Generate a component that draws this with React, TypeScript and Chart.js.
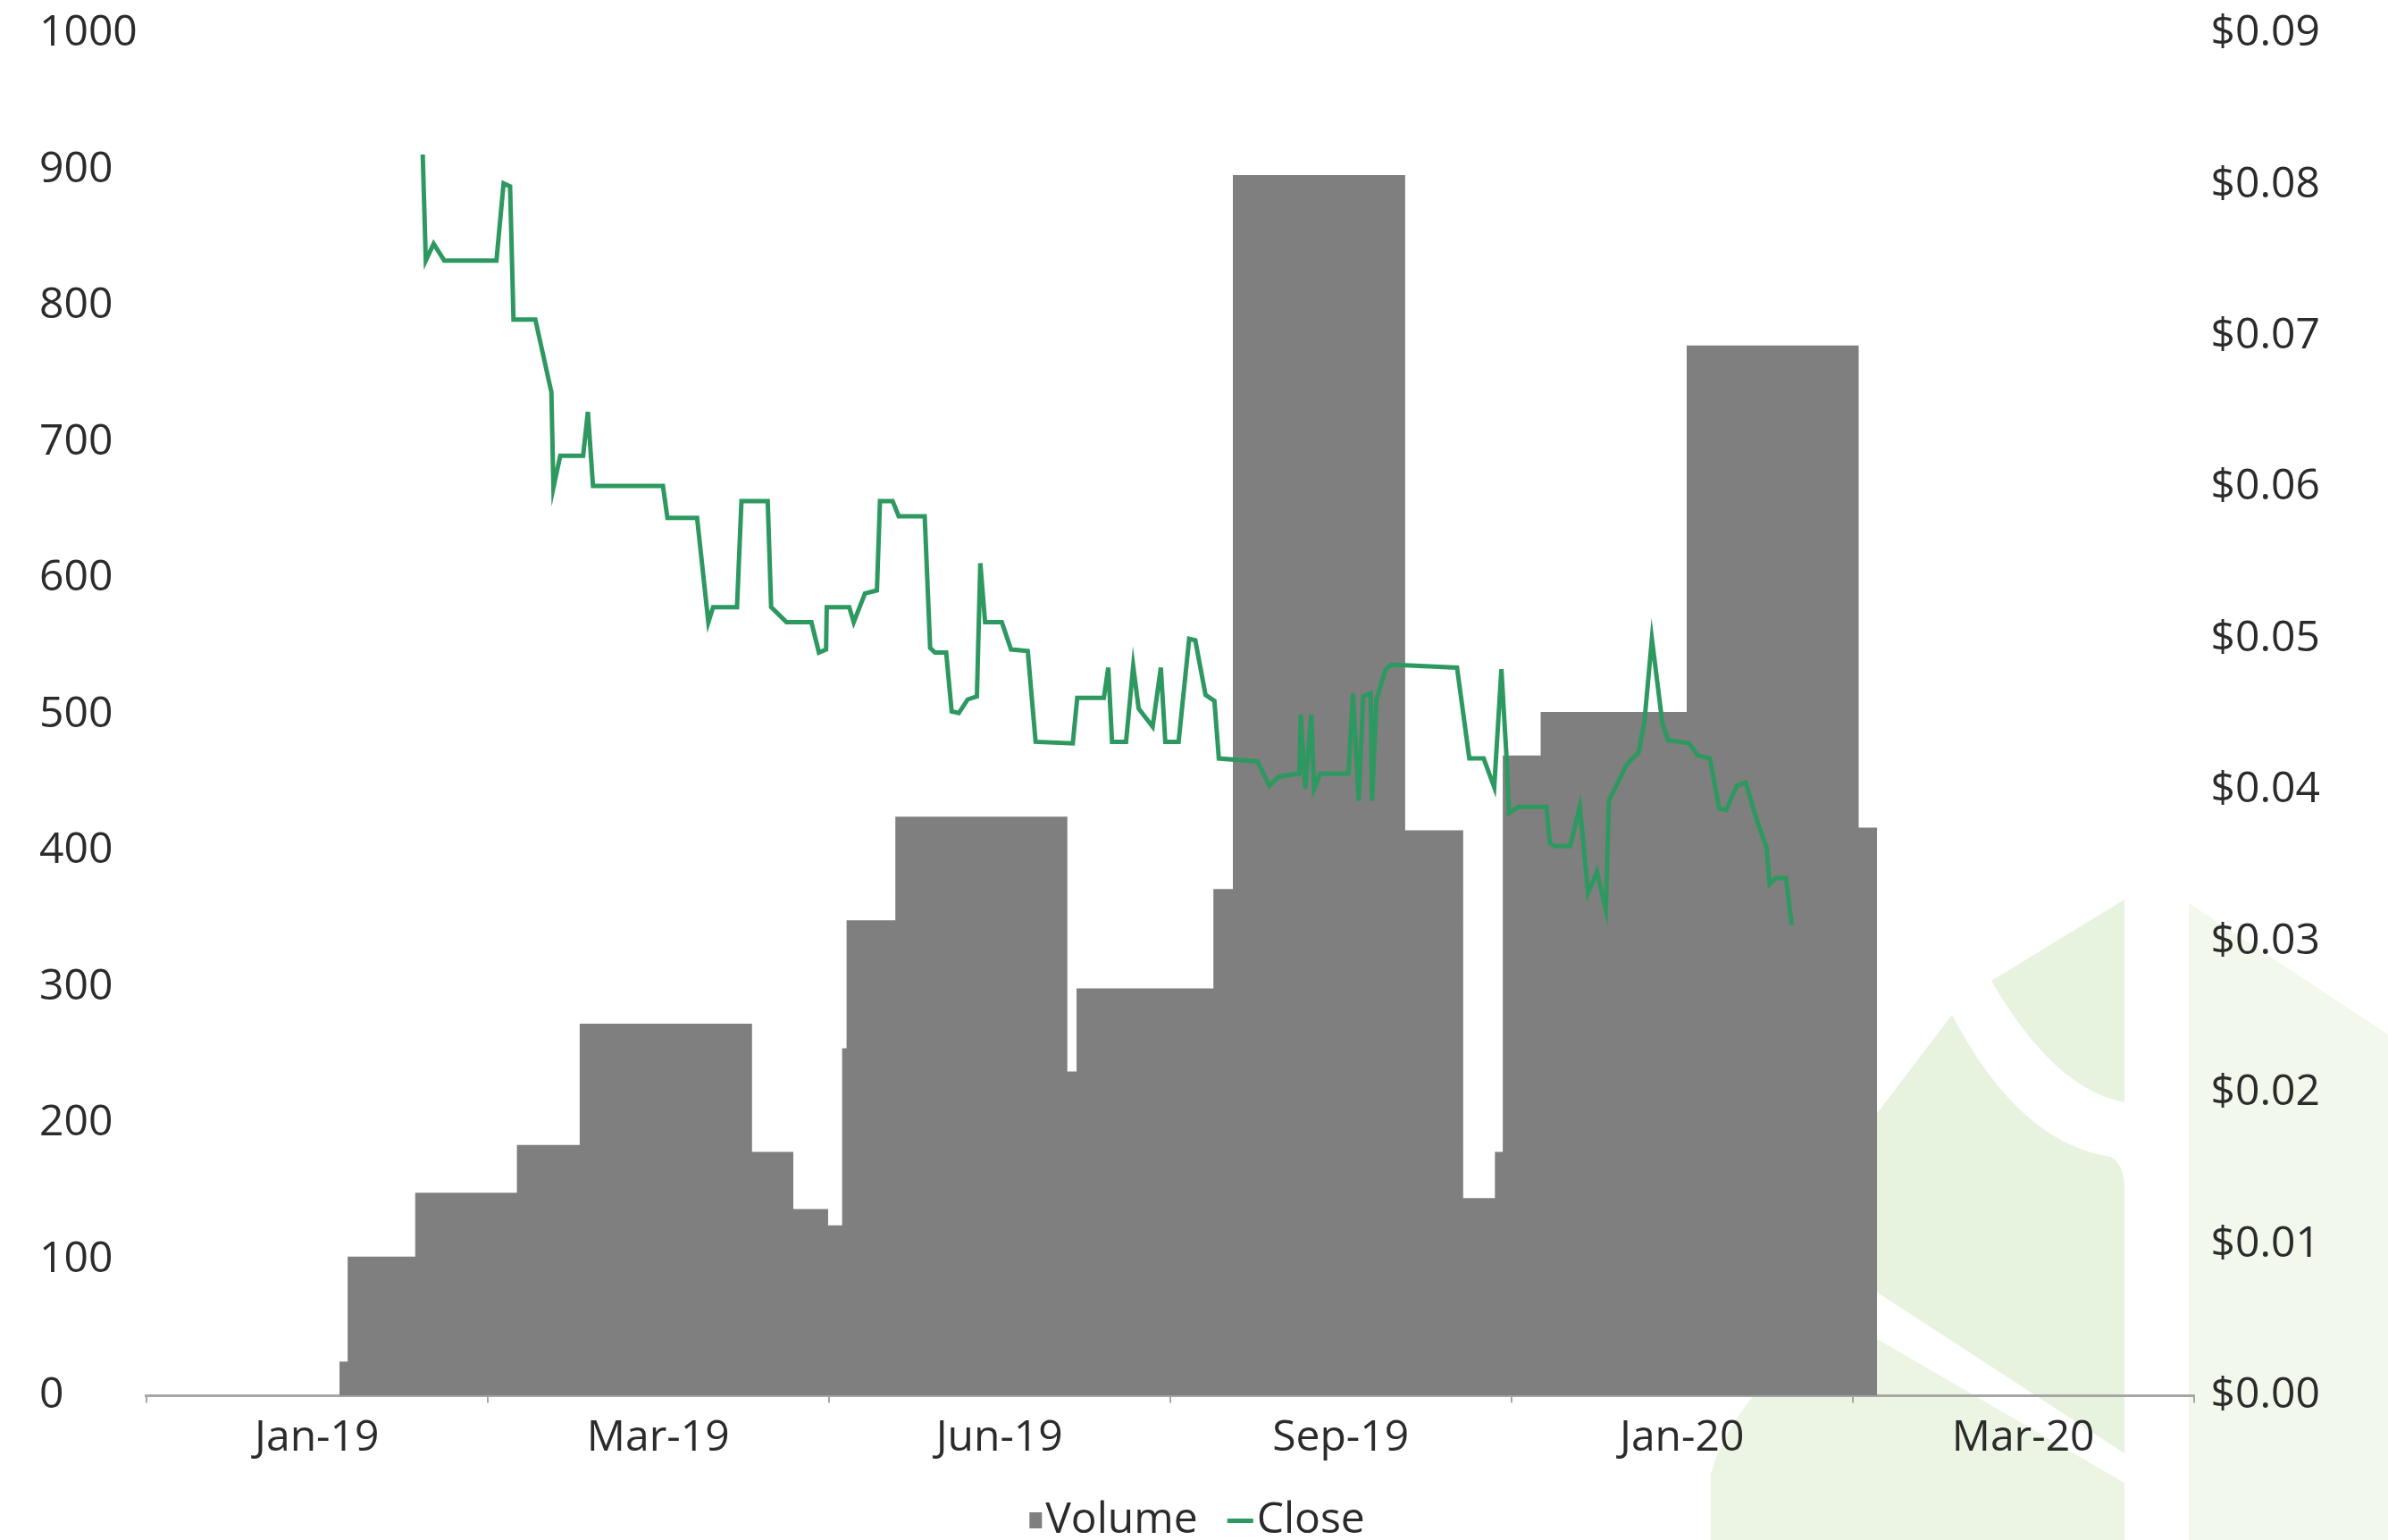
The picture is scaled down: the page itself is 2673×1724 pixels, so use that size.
import React, { useEffect, useRef } from 'react';
import { Chart, registerables } from 'chart.js';

Chart.register(...registerables);

// ---- data ----
const xLabels = ['Jan-19', 'Mar-19', 'Jun-19', 'Sep-19', 'Jan-20', 'Mar-20'];

// Volume steps: start position on the time axis (in label slots), value held until the next start
const volumeStart = [0.566, 0.590, 0.788, 1.086, 1.270, 1.775, 1.896, 1.998, 2.039, 2.052, 2.195, 2.699, 2.726, 3.127, 3.184, 3.689, 3.859, 3.952, 3.975, 4.086, 4.514, 5.018];
const volumeEnd = 5.072;
const volumeValues = [25, 102, 149, 184, 273, 179, 137, 125, 255, 349, 425, 238, 299, 372, 896, 415, 145, 179, 470, 502, 771, 417];

// Close price
const closeX = [0.810, 0.819, 0.842, 0.873, 1.026, 1.047, 1.066, 1.076, 1.140, 1.187,
  1.193, 1.213, 1.280, 1.294, 1.309, 1.514, 1.527, 1.614, 1.647, 1.661,
  1.731, 1.744, 1.821, 1.831, 1.876, 1.949, 1.971, 1.992, 1.994, 2.060,
  2.073, 2.106, 2.141, 2.150, 2.187, 2.205, 2.281, 2.297, 2.311, 2.344,
  2.360, 2.381, 2.407, 2.434, 2.444, 2.458, 2.507, 2.534, 2.583, 2.606,
  2.715, 2.728, 2.806, 2.819, 2.830, 2.871, 2.892, 2.908, 2.949, 2.973,
  2.986, 3.025, 3.056, 3.074, 3.104, 3.130, 3.143, 3.256, 3.291, 3.318,
  3.379, 3.383, 3.396, 3.414, 3.422, 3.440, 3.523, 3.536, 3.553, 3.566,
  3.588, 3.592, 3.605, 3.632, 3.649, 3.841, 3.877, 3.919, 3.950, 3.971,
  3.987, 3.993, 4.022, 4.103, 4.113, 4.129, 4.172, 4.201, 4.225, 4.251,
  4.277, 4.286, 4.338, 4.373, 4.390, 4.412, 4.443, 4.460, 4.521, 4.547,
  4.582, 4.609, 4.630, 4.661, 4.687, 4.717, 4.748, 4.757, 4.774, 4.805,
  4.813, 4.822];
const closeY = [0.0820, 0.0750, 0.0761, 0.0750, 0.0750, 0.0801, 0.0799, 0.0711, 0.0711, 0.0663,
  0.0600, 0.0621, 0.0621, 0.0650, 0.0601, 0.0601, 0.0580, 0.0580, 0.0511, 0.0521,
  0.0521, 0.0591, 0.0591, 0.0521, 0.0511, 0.0511, 0.0491, 0.0493, 0.0521, 0.0521,
  0.0511, 0.0530, 0.0532, 0.0591, 0.0591, 0.0581, 0.0581, 0.0494, 0.0491, 0.0491,
  0.0452, 0.0451, 0.0460, 0.0462, 0.0550, 0.0511, 0.0511, 0.0493, 0.0492, 0.0432,
  0.0431, 0.0461, 0.0461, 0.0481, 0.0432, 0.0432, 0.0482, 0.0454, 0.0442, 0.0481,
  0.0432, 0.0432, 0.0500, 0.0499, 0.0463, 0.0459, 0.0421, 0.0419, 0.0403, 0.0409,
  0.0411, 0.0450, 0.0401, 0.0450, 0.0401, 0.0411, 0.0411, 0.0464, 0.0393, 0.0462,
  0.0464, 0.0393, 0.0460, 0.0480, 0.0483, 0.0481, 0.0421, 0.0421, 0.0402, 0.0480,
  0.0418, 0.0385, 0.0389, 0.0389, 0.0365, 0.0363, 0.0363, 0.0389, 0.0332, 0.0346,
  0.0321, 0.0393, 0.0417, 0.0425, 0.0445, 0.0500, 0.0444, 0.0433, 0.0431, 0.0423,
  0.0421, 0.0388, 0.0387, 0.0403, 0.0405, 0.0382, 0.0362, 0.0338, 0.0342, 0.0342,
  0.0327, 0.0311];

const leftTicksMax = 1000;
const leftStep = 100;
const rightTicksMax = 0.09;
const rightStep = 0.01;

// ---- styles ----
const FONT = '"Open Sans", "Noto Sans", sans-serif';
const TEXT = '#2b2b2b';
const GRAY = '#7f7f7f';
const GREEN = '#2d9960';
const AXIS = '#a6a6a6';

const watermark = {
  id: 'watermark',
  beforeDraw(chart: any) {
    const ctx = chart.ctx as CanvasRenderingContext2D;
    ctx.save();
    ctx.fillStyle = '#f2f8ec';
    ctx.beginPath();
    ctx.moveTo(2450, 1011);
    ctx.lineTo(2673, 1158);
    ctx.lineTo(2673, 1724);
    ctx.lineTo(2450, 1724);
    ctx.closePath();
    ctx.fill();

    ctx.fillStyle = '#e8f3df';
    ctx.beginPath();
    ctx.moveTo(2229, 1098);
    ctx.lineTo(2378, 1007);
    ctx.lineTo(2378, 1234);
    ctx.quadraticCurveTo(2300, 1220, 2229, 1098);
    ctx.closePath();
    ctx.fill();

    ctx.beginPath();
    ctx.moveTo(2185, 1136);
    ctx.quadraticCurveTo(2260, 1280, 2363, 1295);
    ctx.quadraticCurveTo(2378, 1305, 2378, 1330);
    ctx.lineTo(2378, 1627);
    ctx.lineTo(2060, 1420);
    ctx.lineTo(2060, 1300);
    ctx.closePath();
    ctx.fill();

    ctx.fillStyle = '#ecf5e4';
    ctx.beginPath();
    ctx.moveTo(1915, 1724);
    ctx.lineTo(1915, 1650);
    ctx.quadraticCurveTo(1940, 1560, 2060, 1475);
    ctx.lineTo(2378, 1660);
    ctx.lineTo(2378, 1724);
    ctx.closePath();
    ctx.fill();
    ctx.restore();
  },
};

function makeMarker(kind: 'rect' | 'line'): HTMLCanvasElement {
  const c = document.createElement('canvas');
  c.width = 60;
  c.height = 20;
  const g = c.getContext('2d')!;
  if (kind === 'rect') {
    g.fillStyle = GRAY;
    g.fillRect(43, 1, 14, 18);
  } else {
    g.fillStyle = GREEN;
    g.fillRect(28, 8, 29, 5);
  }
  return c;
}

export default function App() {
  const ref = useRef<HTMLCanvasElement>(null);

  useEffect(() => {
    if (!ref.current) return;
    const volumePoints = volumeStart.map((x, i) => ({ x, y: volumeValues[i] }));
    volumePoints.push({ x: volumeEnd, y: volumeValues[volumeValues.length - 1] });
    const closePoints = closeX.map((x, i) => ({ x, y: closeY[i] }));
    const markers = [makeMarker('rect'), makeMarker('line')];

    const chart = new Chart(ref.current, {
      type: 'line',
      data: {
        labels: xLabels,
        datasets: [
          {
            label: 'Volume',
            data: volumePoints,
            xAxisID: 'xv',
            yAxisID: 'y',
            stepped: true,
            fill: 'origin',
            backgroundColor: GRAY,
            borderColor: 'rgba(0,0,0,0)',
            borderWidth: 0,
            pointRadius: 0,
            order: 2,
          },
          {
            label: 'Close',
            data: closePoints,
            xAxisID: 'xv',
            yAxisID: 'y1',
            borderColor: GREEN,
            borderWidth: 5,
            pointRadius: 0,
            tension: 0,
            fill: false,
            order: 1,
          },
        ],
      } as any,
      options: {
        responsive: false,
        devicePixelRatio: 1,
        animation: false,
        layout: { padding: { left: 44, right: 57, top: 4, bottom: -12 } },
        plugins: {
          tooltip: { enabled: false },
          legend: {
            position: 'bottom',
            labels: {
              usePointStyle: true,
              pointStyleWidth: 14,
              padding: 28,
              color: TEXT,
              font: { family: FONT, size: 48 },
              generateLabels: (ch: any) =>
                ch.data.datasets.map((ds: any, i: number) => ({
                  text: ds.label,
                  pointStyle: markers[i],
                  fillStyle: i === 0 ? GRAY : GREEN,
                  strokeStyle: i === 0 ? GRAY : GREEN,
                  lineWidth: 0,
                  fontColor: TEXT,
                  hidden: false,
                  datasetIndex: i,
                })),
            },
          },
        },
        scales: {
          x: {
            type: 'category',
            labels: xLabels,
            position: 'bottom',
            offset: true,
            grid: { offset: true, drawOnChartArea: false, drawTicks: true, tickLength: 8, color: AXIS, lineWidth: 2 },
            border: { display: true, color: AXIS, width: 3 },
            ticks: { color: TEXT, font: { family: FONT, size: 48 }, padding: 11, maxRotation: 0, autoSkip: false },
          },
          xv: { type: 'linear', display: false, min: 0, max: 6 },
          y: {
            position: 'left',
            min: 0,
            max: leftTicksMax,
            grid: { display: false, drawTicks: false },
            border: { display: false },
            ticks: {
              stepSize: leftStep,
              color: TEXT,
              font: { family: FONT, size: 48, lineHeight: 0.77 },
              padding: 5,
              crossAlign: 'far',
              callback: (v: any) => String(v),
            },
          },
          y1: {
            position: 'right',
            min: 0,
            max: rightTicksMax,
            grid: { display: false, drawTicks: false },
            border: { display: false },
            ticks: {
              stepSize: rightStep,
              color: TEXT,
              font: { family: FONT, size: 48, lineHeight: 0.77 },
              padding: 19,
              callback: (v: any) => '$' + Number(v).toFixed(2),
            },
          },
        },
      } as any,
      plugins: [watermark],
    });
    return () => chart.destroy();
  }, []);

  return (
    <div style={{ position: 'fixed', left: 0, top: 0, width: 2673, height: 1724, background: '#fff' }}>
      <canvas ref={ref} width={2673} height={1724} style={{ width: 2673, height: 1724, display: 'block' }} />
    </div>
  );
}
